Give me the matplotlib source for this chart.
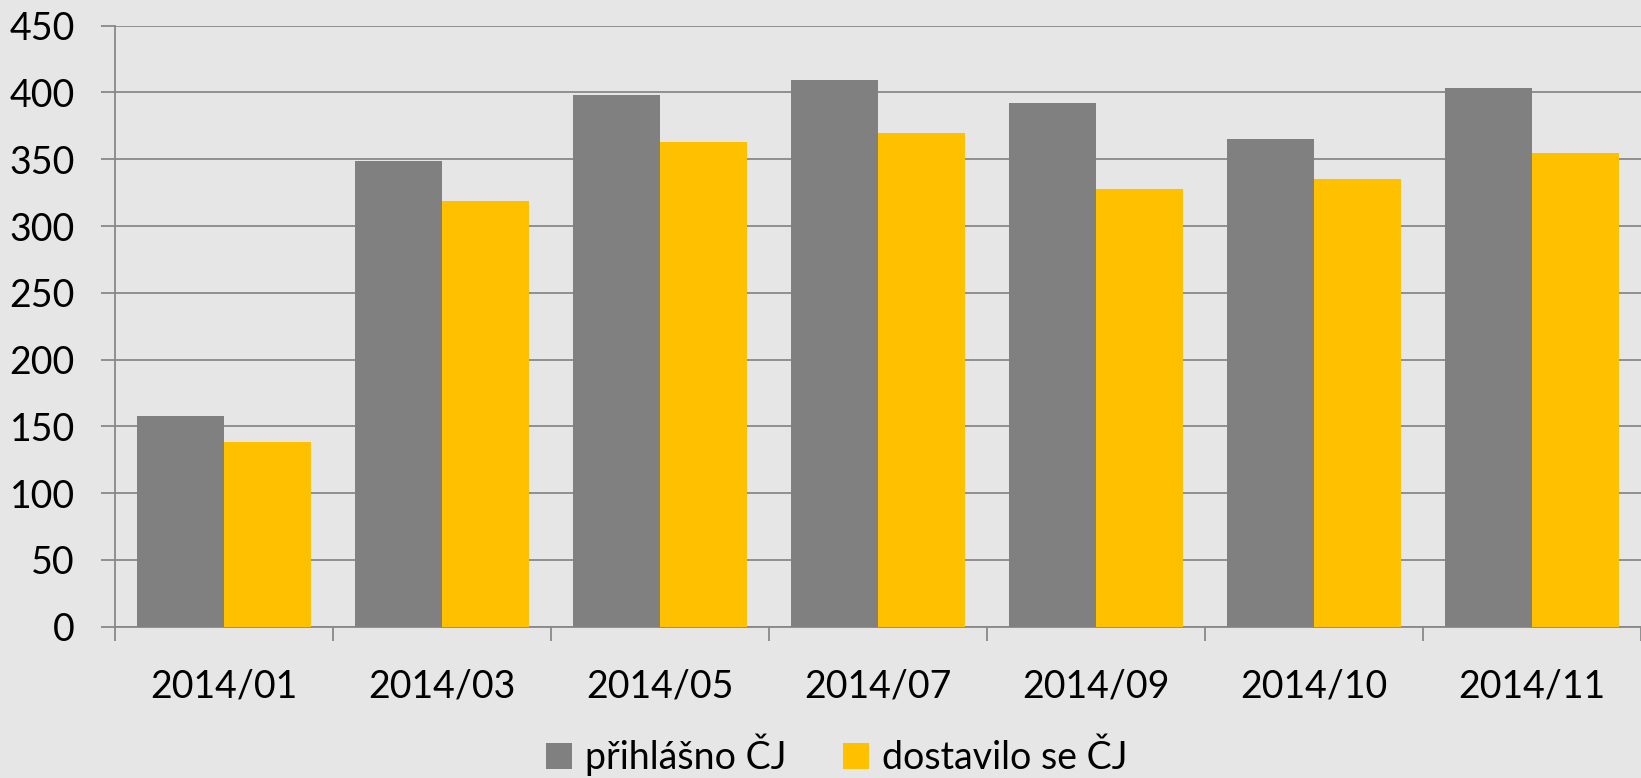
import numpy as np
import matplotlib.pyplot as plt
from matplotlib.ticker import FixedLocator

plt.rcParams['font.family'] = ['Lato', 'DejaVu Sans']

months = ['2014/01', '2014/03', '2014/05', '2014/07', '2014/09', '2014/10', '2014/11']
prihlaseno = [158, 349, 398, 409, 392, 365, 403]
dostavilo = [138, 319, 363, 370, 328, 335, 355]

bg = '#e6e6e6'
axcol = '#888888'

fig = plt.figure(figsize=(16.41, 7.78), dpi=100, facecolor=bg)
ax = fig.add_axes([0.0701, 0.1945, 0.9299, 0.7725])
ax.set_facecolor(bg)

x = np.arange(len(months))
w = 0.4
ax.bar(x - w/2, prihlaseno, w, color='#808080', label='přihlášno ČJ', zorder=3)
ax.bar(x + w/2, dostavilo, w, color='#ffc000', label='dostavilo se ČJ', zorder=3)

ax.set_xlim(-0.5, len(months) - 0.5)
ax.set_ylim(0, 450)
ax.set_yticks(np.arange(0, 451, 50))
ax.yaxis.grid(True, color=axcol, linewidth=1.3, zorder=0)
ax.set_axisbelow(True)

ax.set_xticks(x)
ax.set_xticklabels(months)
ax.xaxis.set_minor_locator(FixedLocator(np.arange(-0.5, len(months), 1.0)))
ax.tick_params(axis='x', which='major', length=0, pad=30, labelsize=27)
ax.tick_params(axis='x', which='minor', length=10, width=1.3, color=axcol)
ax.tick_params(axis='y', length=10, width=1.3, color=axcol, pad=19, labelsize=27)

for s in ['top', 'right']:
    ax.spines[s].set_visible(False)
for s in ['left', 'bottom']:
    ax.spines[s].set_color(axcol)
    ax.spines[s].set_linewidth(1.3)

fig.legend(loc='center', bbox_to_anchor=(0.51, 0.03), ncol=2, frameon=False,
           fontsize=27, handlelength=0.7, handleheight=0.7, handletextpad=0.35,
           columnspacing=1.5)

fig.savefig('out.png', dpi=100, facecolor=bg)
